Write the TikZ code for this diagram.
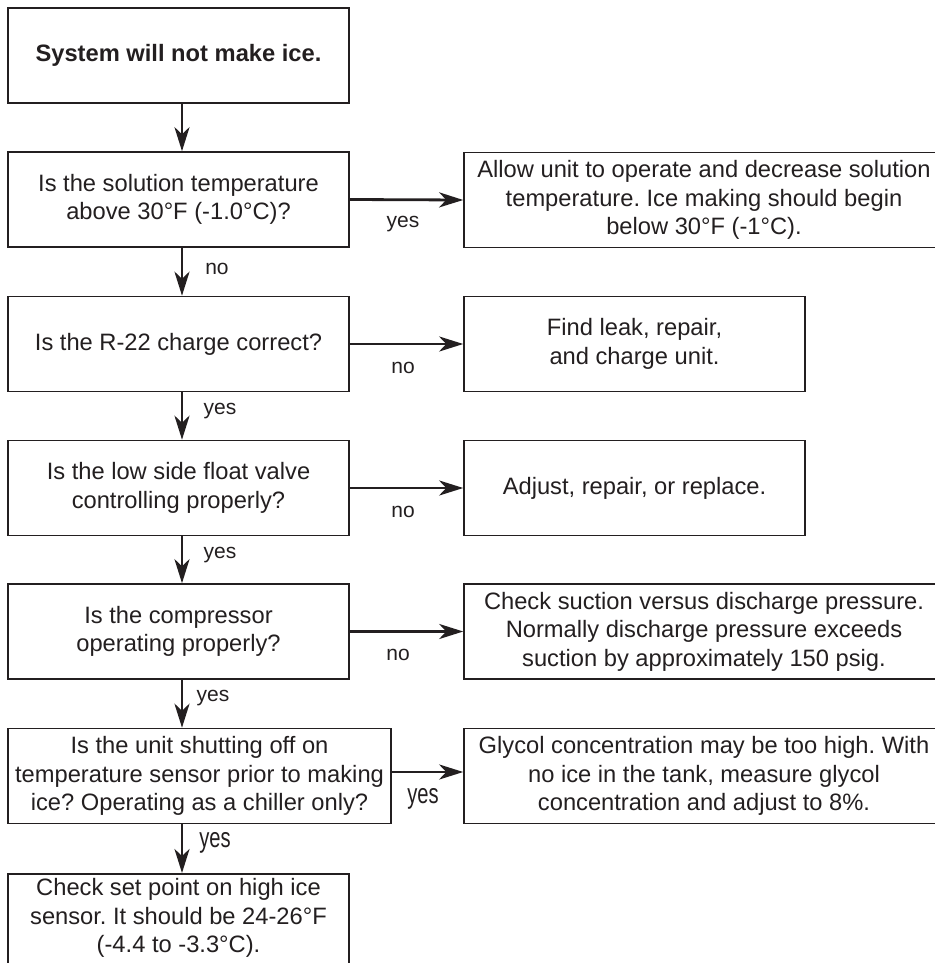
\documentclass[tikz,border=0pt]{standalone}
\usepackage{fontspec}
\usepackage{graphicx}
\setmainfont{Liberation Sans}
\usetikzlibrary{arrows.meta}
\definecolor{ink}{HTML}{231F20}
\tikzset{
  box/.style={draw=ink, line width=1.6pt, rectangle, inner sep=0pt,
    minimum height=95pt, text=ink, align=center,
    font=\fontsize{23.7}{28.6}\selectfont},
  plain/.style={inner sep=0pt, text=ink, align=center,
    font=\fontsize{23.7}{28.6}\selectfont},
  flow/.style={draw=ink, line width=2.8pt,
    -{Stealth[length=24pt,width=15pt,inset=7pt]}},
  lbl/.style={text=ink, inner sep=0pt, font=\fontsize{21}{24}\selectfont},
  tall/.style={text=ink, inner sep=0pt, font=\fontsize{28}{30}\selectfont},
}
\newcommand{\narrow}[1]{\scalebox{0.72}[1]{#1}}
\frenchspacing
\begin{document}
\begin{tikzpicture}[x=1pt,y=-1pt]
  \useasboundingbox[fill=white] (0,0) rectangle (934,963);
  \coordinate (spine) at (182,0);

  % left column: questions
  \node[box, minimum width=341pt] (start) at (178.5,55.5)
    {\raisebox{5pt}{\textbf{System will not make ice.}}};
  \node[box, minimum width=341pt] (q1) at (178.5,199.5)
    {Is the solution temperature\\above 30°F (-1.0°C)?};
  \node[box, minimum width=341pt] (q2) at (178.5,344)
    {Is the R-22 charge correct?};
  \node[box, minimum width=341pt] (q3) at (178.5,488)
    {Is the low side float valve\\controlling properly?};
  \node[box, minimum width=341pt] (q4) at (178.5,631.5)
    {Is the compressor\\operating properly?};
  \node[box, minimum width=383pt] (q5) at (199.5,776)
    {Is the unit shutting off on\\temperature sensor prior to making\\ice? Operating as a chiller only?};
  \node[box, minimum width=341pt, minimum height=120pt, anchor=north] (q6) at (178.5,873) {};
  \node[plain] (q6t) at (178.5,918)
    {Check set point on high ice\\sensor. It should be 24-26°F\\(-4.4 to -3.3°C).};

  % right column: remedies
  \node[box, minimum width=480pt] (r1) at (704,200)
    {Allow unit to operate and decrease solution\\temperature. Ice making should begin\\below 30°F (-1°C).};
  \node[box, minimum width=341pt] (r2) at (634.5,344)
    {Find leak, repair,\\and charge unit.};
  \node[box, minimum width=341pt] (r3) at (634.5,488)
    {Adjust, repair, or replace.};
  \node[box, minimum width=480pt] (r4) at (704,631.5)
    {Check suction versus discharge pressure.\\Normally discharge pressure exceeds\\suction by approximately 150 psig.};
  \node[box, minimum width=480pt] (r5) at (704,776)
    {Glycol concentration may be too high. With\\no ice in the tank, measure glycol\\concentration and adjust to 8\%.};

  % main spine
  \draw[flow] (spine |- start.south) -- (spine |- q1.north);
  \draw[flow] (spine |- q1.south) -- (spine |- q2.north);
  \draw[flow] (spine |- q2.south) -- (spine |- q3.north);
  \draw[flow] (spine |- q3.south) -- (spine |- q4.north);
  \draw[flow] (spine |- q4.south) -- (spine |- q5.north);
  \draw[flow] (spine |- q5.south) -- (spine |- q6.north);

  % branches to the right
  \draw[flow] (q1.east) -- (r1.west);
  \draw[flow] (q2.east) -- (r2.west);
  \draw[flow] (q3.east) -- (r3.west);
  \draw[flow] (q4.east) -- (r4.west);
  \draw[flow] ([yshift=4pt]q5.east) -- ([yshift=4pt]r5.west);

  % branch labels
  \node[lbl] (l1r) at (403,224) {yes};
  \node[lbl] (l1d) at (217,269) {no};
  \node[lbl] (l2r) at (403,368) {no};
  \node[lbl] (l2d) at (220,411) {yes};
  \node[lbl] (l3r) at (403,512) {no};
  \node[lbl] (l3d) at (220,555) {yes};
  \node[lbl] (l4r) at (398,655) {no};
  \node[lbl] (l4d) at (213,698) {yes};
  \node[tall] (l5r) at (423,799) {\narrow{yes}};
  \node[tall] (l5d) at (215,843) {\narrow{yes}};
\end{tikzpicture}
\end{document}
